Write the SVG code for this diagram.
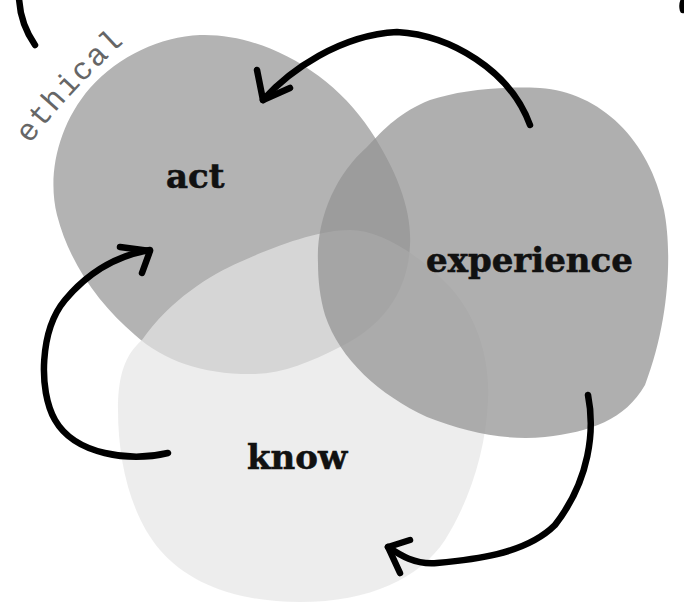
<svg xmlns="http://www.w3.org/2000/svg" width="684" height="603" viewBox="0 0 684 603">
  <style>
    .label { font-family: "DejaVu Serif", "Liberation Serif", serif; font-weight: bold; font-size: 34px; fill: #111; stroke: #111; stroke-width: 0.6; }
    .stroke { fill: none; stroke: #000; stroke-width: 6.5; stroke-linecap: round; stroke-linejoin: round; }
    .tag { font-family: "Liberation Mono", "DejaVu Sans Mono", monospace; font-size: 31px; letter-spacing: 1.5px; fill: #666; }
  </style>
  <defs>
    <path id="ethical-path" d="M 30 144 Q 70 90 138 30"/>
  </defs>
  <rect width="684" height="603" fill="#fff"/>

  <!-- decorative strokes at the edges -->
  <path class="stroke" d="M 19 -2 C 20 18, 26 32, 35 45"/>
  <path class="stroke" d="M 687 -4 C 682 1, 682 6, 683 10"/>

  <text class="tag"><textPath href="#ethical-path">ethical</textPath></text>

  <g id="node-act">
    <path fill="#b3b3b3" d="M 200 35 C 262 33, 332 72, 370 130 C 398 172, 412 212, 410 245 C 408 290, 385 325, 340 347 C 310 362, 285 373, 255 374 C 205 375, 165 362, 135 335 C 100 305, 70 265, 57 215 C 47 175, 58 125, 90 88 C 120 55, 160 37, 200 35 Z"/>
    <text class="label" x="166" y="188">act</text>
  </g>

  <g id="node-know">
    <path fill="rgb(229,229,229)" fill-opacity="0.7" d="M 350 230 C 380 230, 420 255, 450 287 C 478 318, 490 360, 488 400 C 486 450, 470 500, 445 540 C 420 578, 370 602, 300 602 C 240 602, 190 585, 160 550 C 130 515, 118 460, 118 410 C 118 375, 125 355, 142 340 C 170 300, 210 275, 240 262 C 280 244, 320 230, 350 230 Z"/>
    <text class="label" x="247" y="469">know</text>
  </g>

  <g id="node-experience">
    <path fill="rgb(148,148,148)" fill-opacity="0.75" d="M 318 263 C 316 220, 335 175, 367 147 C 385 128, 400 112, 430 100 C 460 90, 500 86, 540 88 C 600 92, 650 140, 664 210 C 672 250, 670 320, 645 385 C 625 420, 590 432, 545 437 C 505 441, 465 432, 427 417 C 380 395, 340 360, 325 315 C 320 298, 318 280, 318 263 Z"/>
    <text class="label" x="426" y="272">experience</text>
  </g>

  <g id="connectors">
    <!-- experience to act -->
    <path class="stroke" d="M 530 125 C 510 70, 450 35, 397 32 C 340 35, 290 70, 263 100"/>
    <path class="stroke" d="M 257 70 L 263 100 L 290 88"/>
    <!-- know to act -->
    <path class="stroke" d="M 168 453 C 130 462, 75 455, 55 420 C 38 390, 40 330, 65 300 C 90 270, 120 255, 150 250"/>
    <path class="stroke" d="M 120 247 L 150 251 L 142 273"/>
    <!-- experience to know -->
    <path class="stroke" d="M 588 395 C 595 430, 590 480, 555 525 C 525 555, 470 560, 437 563 C 415 565, 400 555, 388 547"/>
    <path class="stroke" d="M 410 540 L 388 547 L 400 573"/>
  </g>
</svg>
